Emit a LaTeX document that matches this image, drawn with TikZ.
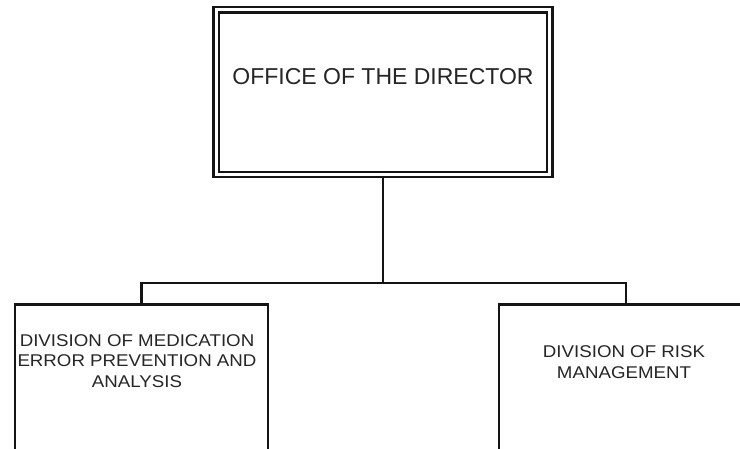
\documentclass[tikz,border=0pt]{standalone}
\usepackage{fontspec}
\setmainfont{Liberation Sans}
\newfontfamily\divfont[FakeStretch=1.1]{Liberation Sans}
\begin{document}
\begin{tikzpicture}[x=1pt,y=-1pt,
  linecol/.style={draw=black!92},
  dirbox/.style={linecol, line width=2.2pt, double=white, double distance=3.3pt, rectangle, inner sep=0pt},
  divbox/.style={linecol, line width=2.6pt, rectangle, inner sep=0pt, fill=white},
  titletext/.style={text=black!85, font=\fontsize{23}{27}\selectfont, inner sep=0pt},
  divtext/.style={text=black!85, font=\divfont\fontsize{17}{20.5}\selectfont, align=center, inner sep=0pt},
  conn/.style={linecol, line width=2.6pt}
]
\useasboundingbox (0,0) rectangle (740,448);
\clip (0,0) rectangle (740,448);
\fill[white] (0,0) rectangle (740,448);
\node[dirbox, minimum width=333.5pt, minimum height=164.75pt] (dir) at (383,92.1) {};
\node[titletext] (dirtxt) at (383,76.5) {OFFICE OF THE DIRECTOR};
\coordinate (bus) at (383,283);
\node[divbox, anchor=north, minimum width=253pt, minimum height=200pt] (left) at (141.5,303) {};
\node[divbox, anchor=north, minimum width=254pt, minimum height=200pt] (right) at (626,303) {};
\node[divtext] (lefttxt) at (137,361) {DIVISION OF MEDICATION\\ERROR PREVENTION AND\\ANALYSIS};
\node[divtext] (righttxt) at (624,362) {DIVISION OF RISK\\MANAGEMENT};
\draw[conn] (dir.south) -- (bus);
\draw[conn] (bus) -| (left.north);
\draw[conn] (bus) -| (right.north);
\end{tikzpicture}
\end{document}
